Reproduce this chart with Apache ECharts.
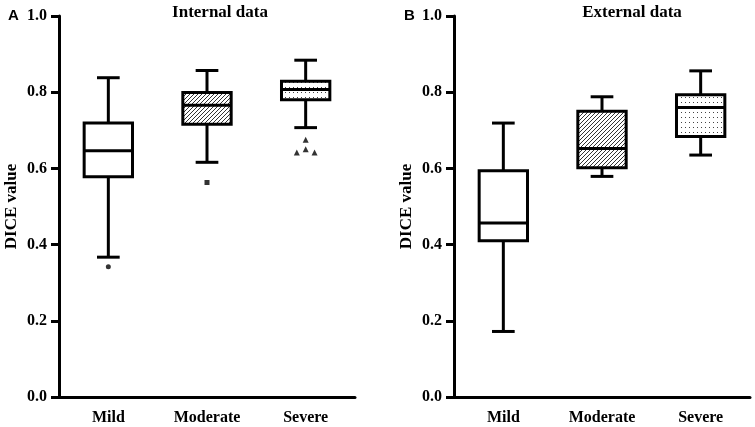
<!DOCTYPE html>
<html>
<head>
<meta charset="utf-8">
<script src="https://cdn.jsdelivr.net/npm/echarts@6/dist/echarts.min.js"></script>
<style>
  html, body { margin: 0; padding: 0; background: #fff; }
  #main { width: 755px; height: 427px; }
</style>
</head>
<body>
<div id="main"></div>
<script>
// groups on the x axis
const categories = ['Mild', 'Moderate', 'Severe'];

// [low whisker, Q1, median, Q3, high whisker]
const internalBoxes = [
  [0.367, 0.578, 0.646, 0.719, 0.838],
  [0.616, 0.716, 0.766, 0.799, 0.857],
  [0.707, 0.780, 0.807, 0.829, 0.884]
];
const externalBoxes = [
  [0.172, 0.410, 0.457, 0.594, 0.719],
  [0.579, 0.602, 0.652, 0.750, 0.788],
  [0.635, 0.684, 0.760, 0.793, 0.856]
];

// outliers of the internal set: [x position (category index), value]
const mildOutliers = [[0, 0.342]];
const moderateOutliers = [[1, 0.563]];
const severeOutliers = [[1.91, 0.642], [2, 0.650], [2, 0.675], [2.09, 0.642]];

const yTicks = { min: 0, max: 1, interval: 0.2 };

function hatchPattern() {
  const c = document.createElement('canvas');
  c.width = 4; c.height = 4;
  const ctx = c.getContext('2d');
  ctx.fillStyle = '#fff';
  ctx.fillRect(0, 0, 4, 4);
  ctx.strokeStyle = '#333';
  ctx.lineWidth = 1;
  ctx.beginPath();
  ctx.moveTo(0, 4); ctx.lineTo(4, 0);
  ctx.moveTo(-1, 1); ctx.lineTo(1, -1);
  ctx.moveTo(3, 5); ctx.lineTo(5, 3);
  ctx.stroke();
  return { image: c, repeat: 'repeat' };
}

function dotPattern() {
  const c = document.createElement('canvas');
  c.width = 4; c.height = 5;
  const ctx = c.getContext('2d');
  ctx.fillStyle = '#fff';
  ctx.fillRect(0, 0, 4, 5);
  ctx.fillStyle = '#444';
  ctx.fillRect(1, 2, 1, 1);
  return { image: c, repeat: 'repeat' };
}

const fills = ['#fff', hatchPattern(), dotPattern()];

function renderBox(params, api) {
  const idx = api.value(0);
  const low = api.coord([idx, api.value(1)]);
  const q1 = api.coord([idx, api.value(2)]);
  const med = api.coord([idx, api.value(3)]);
  const q3 = api.coord([idx, api.value(4)]);
  const high = api.coord([idx, api.value(5)]);
  const band = api.size([1, 0])[0];
  const bw = band * 0.49;
  const cw = band * 0.23;
  const x = low[0];
  const line = { stroke: '#000', lineWidth: 3 };
  return {
    type: 'group',
    children: [
      { type: 'line', shape: { x1: x, y1: high[1], x2: x, y2: q3[1] }, style: line },
      { type: 'line', shape: { x1: x, y1: q1[1], x2: x, y2: low[1] }, style: line },
      { type: 'line', shape: { x1: x - cw / 2, y1: high[1], x2: x + cw / 2, y2: high[1] }, style: line },
      { type: 'line', shape: { x1: x - cw / 2, y1: low[1], x2: x + cw / 2, y2: low[1] }, style: line },
      { type: 'rect', shape: { x: x - bw / 2, y: q3[1], width: bw, height: q1[1] - q3[1] },
        style: { fill: fills[idx], stroke: '#000', lineWidth: 3 } },
      { type: 'line', shape: { x1: x - bw / 2, y1: med[1], x2: x + bw / 2, y2: med[1] }, style: line }
    ]
  };
}

function boxData(rows) {
  return rows.map((r, i) => [i].concat(r));
}

const labelFont = { fontFamily: 'Liberation Serif', fontWeight: 'bold', color: '#000' };

function yAxisFor(gridIndex) {
  return {
    type: 'value', gridIndex: gridIndex,
    min: yTicks.min, max: yTicks.max, interval: yTicks.interval,
    name: 'DICE value', nameLocation: 'middle', nameGap: 39,
    nameTextStyle: Object.assign({ fontSize: 17 }, labelFont),
    axisLine: { show: true, onZero: false, lineStyle: { color: '#000', width: 3 } },
    axisTick: { show: true, length: 8, lineStyle: { color: '#000', width: 3 } },
    axisLabel: Object.assign({ fontSize: 16, margin: 12, formatter: v => v.toFixed(1) }, labelFont),
    splitLine: { show: false }
  };
}

function xAxisFor(gridIndex) {
  return {
    type: 'category', gridIndex: gridIndex, data: categories,
    axisLine: { onZero: false, lineStyle: { color: '#000', width: 3 } },
    axisTick: { alignWithLabel: true, length: 8, lineStyle: { color: '#000', width: 3 } },
    axisLabel: Object.assign({ fontSize: 16, margin: 13 }, labelFont)
  };
}

function hiddenX(gridIndex) {
  return { type: 'value', gridIndex: gridIndex, min: -0.5, max: 2.5, show: false };
}

const chart = echarts.init(document.getElementById('main'));
chart.setOption({
  animation: false,
  backgroundColor: '#fff',
  title: [
    { text: 'Internal data', left: 215, top: -1, textAlign: 'center',
      textStyle: Object.assign({ fontSize: 17 }, labelFont) },
    { text: 'External data', left: 627, top: -1, textAlign: 'center',
      textStyle: Object.assign({ fontSize: 17 }, labelFont) },
    { text: 'A', left: 3, top: 3,
      textStyle: { fontFamily: 'Liberation Sans', fontWeight: 'bold', fontSize: 15, color: '#000' } },
    { text: 'B', left: 399, top: 3,
      textStyle: { fontFamily: 'Liberation Sans', fontWeight: 'bold', fontSize: 15, color: '#000' } }
  ],
  grid: [
    { left: 59, top: 16, width: 296, height: 381 },
    { left: 454, top: 16, width: 296, height: 381 }
  ],
  xAxis: [xAxisFor(0), xAxisFor(1), hiddenX(0)],
  yAxis: [yAxisFor(0), yAxisFor(1)],
  series: [
    { type: 'custom', xAxisIndex: 0, yAxisIndex: 0, renderItem: renderBox,
      encode: { x: 0, y: [1, 2, 3, 4, 5] }, data: boxData(internalBoxes) },
    { type: 'custom', xAxisIndex: 1, yAxisIndex: 1, renderItem: renderBox,
      encode: { x: 0, y: [1, 2, 3, 4, 5] }, data: boxData(externalBoxes) },
    { type: 'scatter', xAxisIndex: 2, yAxisIndex: 0, symbol: 'circle', symbolSize: 5,
      itemStyle: { color: '#000' }, data: mildOutliers },
    { type: 'scatter', xAxisIndex: 2, yAxisIndex: 0, symbol: 'rect', symbolSize: 5,
      itemStyle: { color: '#000' }, data: moderateOutliers },
    { type: 'scatter', xAxisIndex: 2, yAxisIndex: 0, symbol: 'triangle', symbolSize: 6,
      itemStyle: { color: '#000' }, data: severeOutliers }
  ]
});
</script>
</body>
</html>
